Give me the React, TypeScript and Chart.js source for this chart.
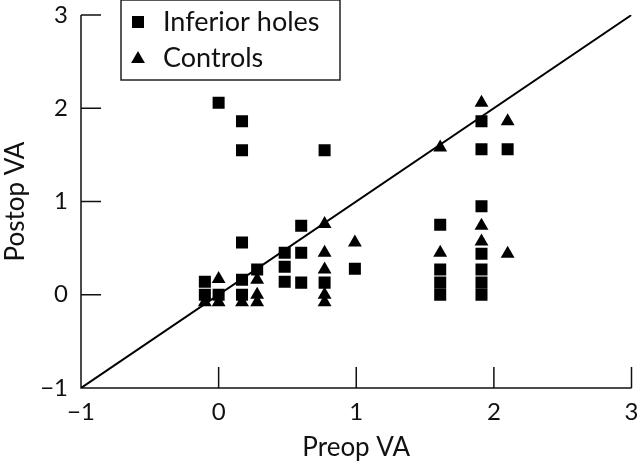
import React, { useEffect, useRef } from "react";
import { Chart, registerables } from "chart.js";

Chart.register(...registerables);

// ---- data ----
const inferiorX = [-0.1, -0.1, 0, 0, 0.17, 0.17, 0.17, 0.17, 0.17, 0.28, 0.48, 0.48, 0.48, 0.6, 0.6, 0.6, 0.77, 0.77, 0.99, 1.61, 1.61, 1.61, 1.61, 1.91, 1.91, 1.91, 1.91, 1.91, 1.91, 1.91, 2.1];
const inferiorY = [0.14, 0, 0, 2.06, 1.86, 1.55, 0.56, 0.16, 0, 0.27, 0.45, 0.3, 0.14, 0.74, 0.45, 0.13, 1.55, 0.13, 0.28, 0.75, 0.27, 0.13, 0, 1.86, 1.56, 0.95, 0.44, 0.27, 0.13, 0, 1.56];
const controlsX = [-0.1, 0, 0, 0.17, 0.28, 0.28, 0.28, 0.77, 0.77, 0.77, 0.77, 0.77, 0.99, 1.61, 1.61, 1.91, 1.91, 1.91, 2.1, 2.1];
const controlsY = [-0.08, 0.17, -0.08, -0.08, 0.16, 0, -0.08, 0.76, 0.45, 0.27, 0, -0.08, 0.56, 1.58, 0.45, 2.06, 0.74, 0.57, 1.86, 0.44];
const identityLine = [-1, 3];
const axisMin = -1;
const axisMax = 3;
const seriesLabels = ["Inferior holes", "Controls"];
const xTitle = "Preop VA";
const yTitle = "Postop VA";

const FONT = '"Lato", "Open Sans", sans-serif';
const INK = "#111";

const fmtTick = (v: number | string) => {
  const n = Number(v);
  return n < 0 ? "\u2212" + Math.abs(n) : String(n);
};

const drawMarker = (ctx: CanvasRenderingContext2D, style: string, x: number, y: number, r: number) => {
  ctx.beginPath();
  if (style === "rect") {
    const s = Math.SQRT1_2 * r;
    ctx.rect(x - s, y - s, 2 * s, 2 * s);
  } else {
    ctx.moveTo(x, y - r);
    ctx.lineTo(x + 0.866 * r, y + 0.5 * r);
    ctx.lineTo(x - 0.866 * r, y + 0.5 * r);
    ctx.closePath();
  }
  ctx.fill();
};

const axesPlugin = {
  id: "axesTicks",
  beforeDatasetsDraw(chart: any) {
    const { ctx, chartArea, scales } = chart;
    const xs = scales.x;
    const ys = scales.y;
    ctx.save();
    ctx.strokeStyle = INK;
    ctx.lineWidth = 1.5;
    ctx.beginPath();
    ctx.moveTo(chartArea.left, chartArea.top);
    ctx.lineTo(chartArea.left, chartArea.bottom);
    ctx.lineTo(chartArea.right, chartArea.bottom);
    ys.ticks.forEach((t: any) => {
      if (t.value > axisMin) {
        const py = ys.getPixelForValue(t.value);
        ctx.moveTo(chartArea.left, py);
        ctx.lineTo(chartArea.left + 20, py);
      }
    });
    xs.ticks.forEach((t: any) => {
      if (t.value > axisMin) {
        const px = xs.getPixelForValue(t.value);
        ctx.moveTo(px, chartArea.bottom);
        ctx.lineTo(px, chartArea.bottom - 21);
      }
    });
    ctx.stroke();
    ctx.restore();
  },
};

const legendPlugin = {
  id: "boxLegend",
  afterDraw(chart: any) {
    const { ctx, chartArea } = chart;
    const left = chartArea.left + 40;
    const top = chartArea.top - 15;
    const w = 219;
    const h = 80;
    ctx.save();
    ctx.strokeStyle = "#222";
    ctx.lineWidth = 1.5;
    ctx.fillStyle = "#fff";
    ctx.fillRect(left, top, w, h);
    ctx.strokeRect(left, top, w, h);
    const styles = ["rect", "triangle"];
    const rows = [top + 22, top + 58];
    ctx.font = `27px ${FONT}`;
    ctx.textBaseline = "middle";
    ctx.textAlign = "left";
    seriesLabels.forEach((lab, i) => {
      ctx.fillStyle = "#000";
      drawMarker(ctx, styles[i], left + 17, rows[i] + (i === 1 ? 1 : 0), i === 0 ? 8.5 : 8);
      ctx.fillStyle = INK;
      ctx.fillText(lab, left + 42, rows[i]);
    });
    ctx.restore();
  },
};

export default function App() {
  const ref = useRef<HTMLCanvasElement | null>(null);

  useEffect(() => {
    if (!ref.current) return;
    const chart = new Chart(ref.current, {
      type: "scatter",
      data: {
        datasets: [
          {
            label: "identity",
            data: identityLine.map((v) => ({ x: v, y: v })),
            showLine: true,
            pointRadius: 0,
            borderColor: "#000",
            borderWidth: 2,
            order: 3,
          } as any,
          {
            label: seriesLabels[0],
            data: inferiorX.map((x, i) => ({ x, y: inferiorY[i] })),
            pointStyle: "rect",
            pointRadius: 8.5,
            backgroundColor: "#000",
            borderWidth: 0,
            order: 1,
          },
          {
            label: seriesLabels[1],
            data: controlsX.map((x, i) => ({ x, y: controlsY[i] })),
            pointStyle: "triangle",
            pointRadius: 8,
            backgroundColor: "#000",
            borderWidth: 0,
            order: 2,
          },
        ],
      },
      options: {
        responsive: false,
        animation: false,
        events: [],
        layout: { padding: { top: 15, right: 6, left: 0, bottom: 0 } },
        plugins: { legend: { display: false }, tooltip: { enabled: false } },
        scales: {
          x: {
            type: "linear",
            min: axisMin,
            max: axisMax,
            ticks: { stepSize: 1, color: INK, font: { family: FONT, size: 24 }, padding: 10, maxRotation: 0, callback: fmtTick },
            grid: { display: false, drawTicks: false },
            border: { display: false },
            title: { display: true, text: xTitle, color: INK, font: { family: FONT, size: 26 }, padding: { top: 0, bottom: 3 } },
            afterFit: (s: any) => {
              s.height = 78;
              s.paddingLeft = 0;
              s.paddingRight = 0;
            },
          },
          y: {
            type: "linear",
            min: axisMin,
            max: axisMax,
            ticks: { stepSize: 1, color: INK, font: { family: FONT, size: 24 }, padding: 13, callback: fmtTick },
            grid: { display: false, drawTicks: false },
            border: { display: false },
            title: { display: true, text: yTitle, color: INK, font: { family: FONT, size: 26 }, padding: { top: 0, bottom: 0 } },
            afterFit: (s: any) => {
              s.width = 81;
              s.paddingTop = 0;
              s.paddingBottom = 0;
            },
          },
        },
      },
      plugins: [axesPlugin, legendPlugin],
    });
    return () => chart.destroy();
  }, []);

  return (
    <div style={{ position: "fixed", left: 0, top: 0, width: 640, height: 466, background: "#fff" }}>
      <canvas ref={ref} width={640} height={466} style={{ display: "block" }} />
    </div>
  );
}
